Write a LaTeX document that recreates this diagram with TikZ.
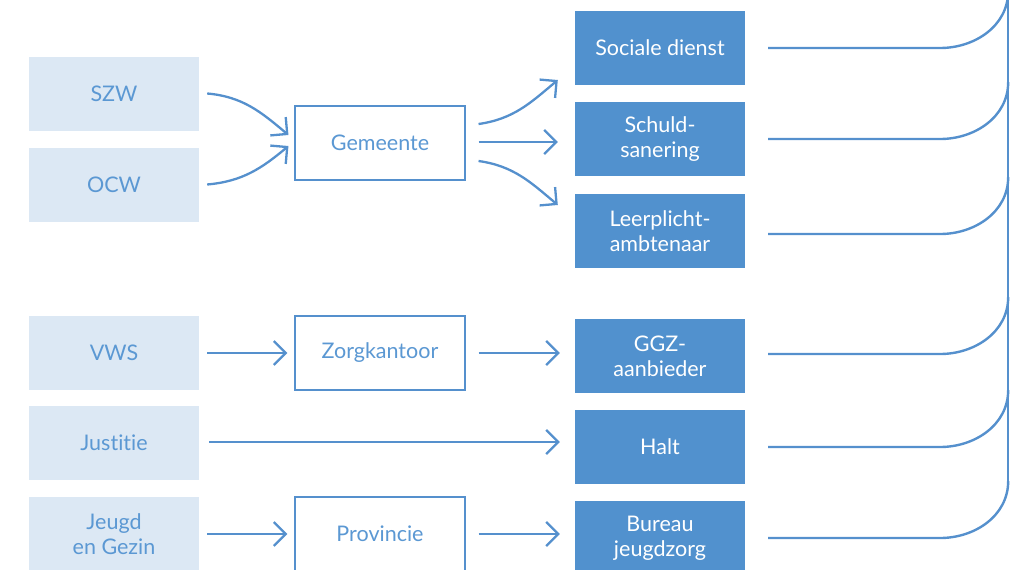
\documentclass[tikz,border=0pt]{standalone}
\usepackage{fontspec}
\setmainfont{Lato}[Ligatures=NoCommon]
\usetikzlibrary{arrows.meta}
\definecolor{lightbox}{HTML}{DCE8F4}
\definecolor{darkbox}{HTML}{5191CE}
\definecolor{ink}{HTML}{5B98D3}
\definecolor{wire}{HTML}{5590CD}
\begin{document}
\begin{tikzpicture}[x=1pt,y=1pt,
  base/.style={minimum width=170pt,minimum height=74pt,inner sep=0pt,align=center,
    font=\fontsize{21.5}{25}\selectfont},
  srcbox/.style={base,fill=lightbox,text=ink},
  midbox/.style={base,draw=wire,line width=1.1pt,fill=white,text=ink},
  tgtbox/.style={base,fill=darkbox,text=white},
  arr/.style={draw=wire,line width=2.3pt,-{Straight Barb[length=12pt,width=24pt,line width=2.3pt]}},
  rail/.style={draw=wire,line width=2.4pt}]
\useasboundingbox (0,0) rectangle (1015,-570);
\begin{scope}
\clip (0,0) rectangle (1015,-570);
% sources
\node[srcbox] (szw) at (114,-93.5) {SZW};
\node[srcbox] (ocw) at (114,-184.5) {OCW};
\node[srcbox] (vws) at (114,-353) {VWS};
\node[srcbox] (jus) at (114,-443) {Justitie};
\node[srcbox] (jeg) at (114,-534) {Jeugd\\en Gezin};
% middle
\node[midbox] (gem) at (380,-143) {Gemeente};
\node[midbox] (zor) at (380,-353) {Zorgkantoor};
\node[midbox] (pro) at (380,-534) {Provincie};
% targets
\node[tgtbox] (soc) at (660,-48) {Sociale dienst};
\node[tgtbox] (sch) at (660,-139) {Schuld-\\sanering};
\node[tgtbox] (lee) at (660,-231) {Leerplicht-\\ambtenaar};
\node[tgtbox] (ggz) at (660,-356) {GGZ-\\aanbieder};
\node[tgtbox] (hal) at (660,-447) {Halt};
\node[tgtbox] (bur) at (660,-538) {Bureau\\jeugdzorg};
% arrows
\draw[arr] ([xshift=8pt]szw.east) to[out=-5,in=140] ([xshift=-6pt,yshift=8pt]gem.west);
\draw[arr] ([xshift=8pt]ocw.east) to[out=5,in=-140] ([xshift=-6pt,yshift=-3pt]gem.west);
\draw[arr] ([xshift=13pt,yshift=19pt]gem.east) to[out=8,in=-140] ([xshift=-17pt,yshift=-32pt]soc.west);
\draw[arr] ([xshift=13pt,yshift=1pt]gem.east) -- ([xshift=-17pt,yshift=-3pt]sch.west);
\draw[arr] ([xshift=13pt,yshift=-18pt]gem.east) to[out=-8,in=140] ([xshift=-17pt,yshift=26pt]lee.west);
\draw[arr] ([xshift=8pt]vws.east) -- ([xshift=-7pt]zor.west);
\draw[arr] ([xshift=13pt]zor.east) -- ([xshift=-15pt]zor.east -| ggz.west);
\draw[arr] ([xshift=10pt,yshift=1pt]jus.east) -- ([xshift=-15pt,yshift=1pt]jus.east -| hal.west);
\draw[arr] ([xshift=8pt]jeg.east) -- ([xshift=-7pt]pro.west);
\draw[arr] ([xshift=13pt]pro.east) -- ([xshift=-15pt]pro.east -| bur.west);
% bracket
\coordinate (top) at (1008,0);
\coordinate (bot) at (1008,-481);
\draw[rail] (top) -- (bot);
\foreach \n/\dy in {soc/0,sch/0,lee/-3,ggz/2,hal/0,bur/0}{
  \draw[rail] ([xshift=23pt,yshift=\dy pt]\n.east) -- ([xshift=195pt,yshift=\dy pt]\n.east)
    to[out=0,in=-90] ([xshift=263pt,yshift=\dy pt+57pt]\n.east);
}
\end{scope}
\end{tikzpicture}
\end{document}
